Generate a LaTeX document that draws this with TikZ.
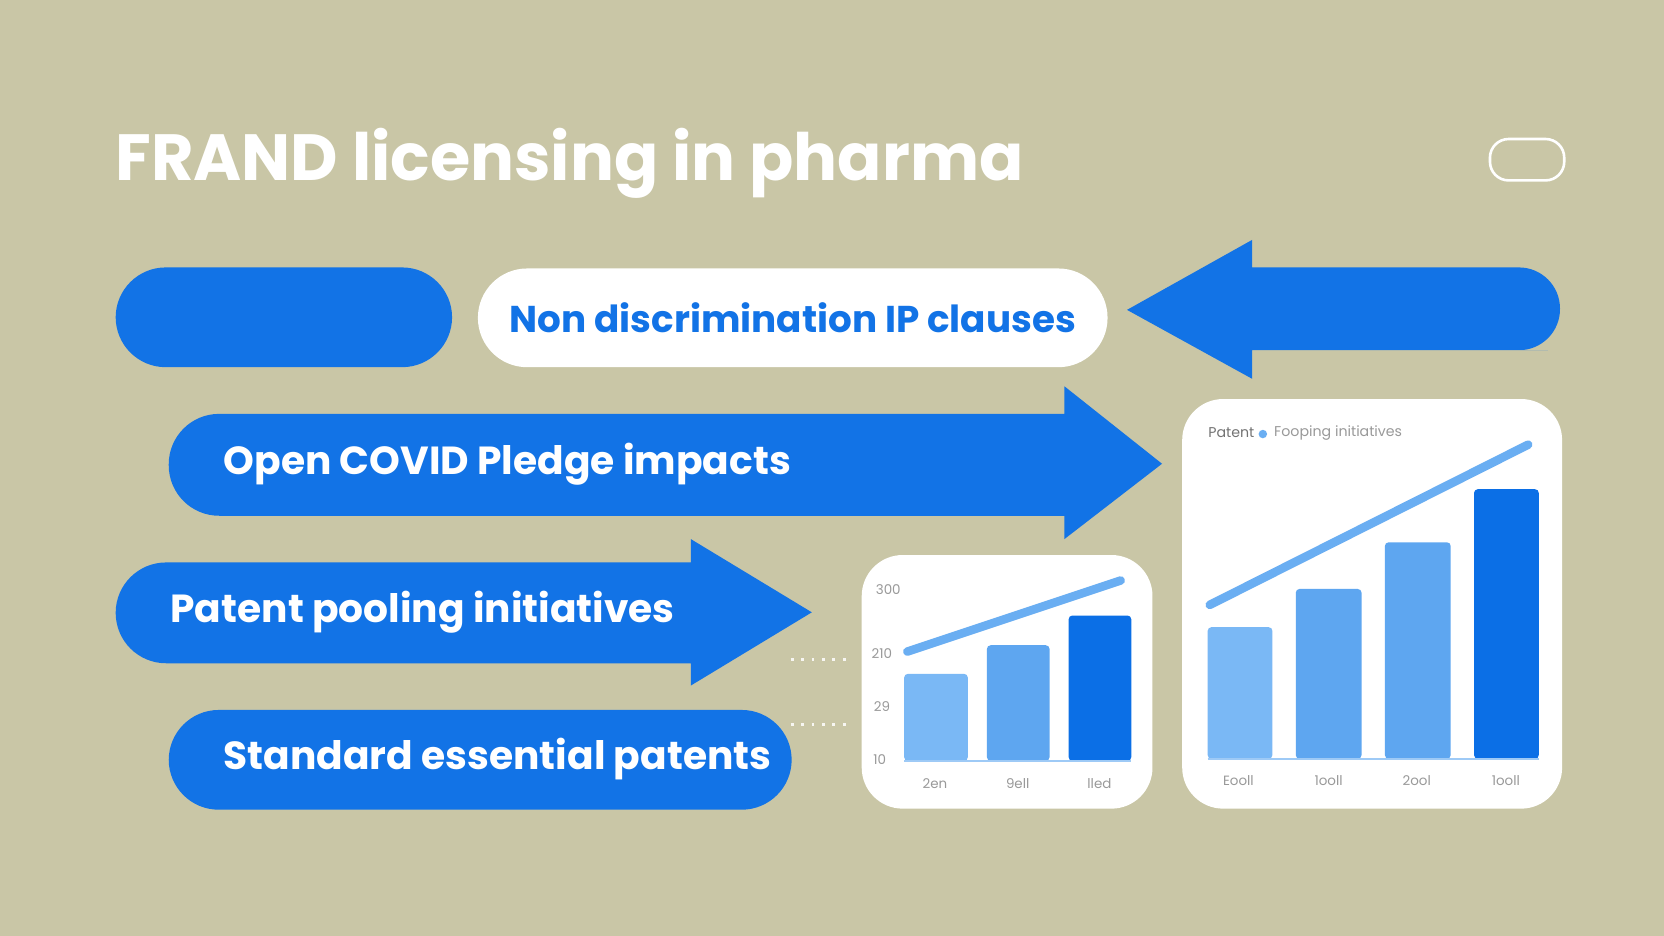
\documentclass[tikz,border=0pt]{standalone}
\usepackage{fontspec}
\setmainfont{Poppins}
\definecolor{bg}{HTML}{C9C6A6}
\definecolor{fb}{HTML}{1273E6}
\definecolor{b1}{HTML}{7AB8F5}
\definecolor{b2}{HTML}{5EA6F0}
\definecolor{b3}{HTML}{0B6FE6}
\definecolor{ln}{HTML}{6AAEF2}
\tikzset{lbl/.style={text=white,font=\fontsize{10.5}{12}\selectfont\bfseries,anchor=west,inner sep=0},
  card/.style={fill=white,rounded corners=11pt},
  ax/.style={text=gray!80,font=\fontsize{3.6}{4}\selectfont,inner sep=0}}
\begin{document}
\begin{tikzpicture}[x=0.01cm,y=-0.01cm]
\fill[bg] (0,0) rectangle (1568,882);
\useasboundingbox (0,0) rectangle (1568,882);
\node[text=white,font=\fontsize{17.5}{20}\selectfont\bfseries,anchor=base west,inner sep=0] (title) at (108,170) {FRAND licensing in pharma};
\draw[white,line width=0.7pt,rounded corners=5pt] (1404,131) rectangle (1474,170);
% row1
\fill[fb,rounded corners=13.4pt] (109,252) rectangle (426,346);
\node[fill=white,rounded corners=13.2pt,minimum width=5.93cm,minimum height=0.93cm,text=fb,font=\fontsize{10}{12}\selectfont\bfseries] (nd) at (747,299.5) {Non discrimination IP clauses};
\fill[fb,rounded corners=11pt] (1420,252) -- (1470,252) -- (1470,330) -- (1420,330) [sharp corners]-- (1180,330) -- (1180,357) -- (1062,292) -- (1180,226) -- (1180,252) -- cycle;
% row2
\fill[fb] (1003,390) -- (1003,364) -- (1095,437) -- (1003,508) -- (1003,486) -- (220,486) [rounded corners=13.5pt]-- (159,486) -- (159,390) [sharp corners]-- (220,390) -- cycle;
\node[lbl] (oc) at (210,437) {Open COVID Pledge impacts};
% row3
\fill[fb] (651,530) -- (651,508) -- (765,577) -- (651,646) -- (651,625) -- (170,625) [rounded corners=13.5pt]-- (109,625) -- (109,530) [sharp corners]-- (170,530) -- cycle;
\node[lbl] (pp) at (160,577) {Patent pooling initiatives};
% row4
\fill[fb,rounded corners=13.4pt] (159,669) rectangle (746,763);
\node[lbl] (se) at (210,715) {Standard essential patents};
% dotted
\coordinate (d1a) at (745,621); \coordinate (d1b) at (800,621);
\coordinate (d2a) at (745,683); \coordinate (d2b) at (800,683);
\draw[white!85!bg,line width=0.8pt,dotted] (d1a) -- (d1b);
\draw[white!85!bg,line width=0.8pt,dotted] (d2a) -- (d2b);
% small card
\fill[card] (812,523) rectangle (1086,762);
\fill[b1,rounded corners=1pt] (852,717) |- (912,635) -- (912,717) -- cycle;
\fill[b2,rounded corners=1pt] (930,717) |- (989,608) -- (989,717) -- cycle;
\fill[b3,rounded corners=1pt] (1007,717) |- (1066,580) -- (1066,717) -- cycle;
\draw[b2!60,line width=0.4pt] (852,717) -- (1066,717);
\draw[ln,line width=2.3pt,line cap=round] (855,614) -- (1056,547);
\node[ax] at (837,556) {300};
\node[ax] at (831,616) {210};
\node[ax] at (831,666) {29};
\node[ax] at (829,716) {10};
\node[ax] at (881,738) {2en};
\node[ax] at (959,738) {9ell};
\node[ax] at (1036,738) {lled};
% big card
\fill[card] (1114,376) rectangle (1472,762);
\fill[b1,rounded corners=1pt] (1138,715) |- (1199,591) -- (1199,715) -- cycle;
\fill[b2,rounded corners=1pt] (1221,715) |- (1283,555) -- (1283,715) -- cycle;
\fill[b2,rounded corners=1pt] (1305,715) |- (1367,511) -- (1367,715) -- cycle;
\fill[b3,rounded corners=1pt] (1389,715) |- (1450,461) -- (1450,715) -- cycle;
\draw[b2!60,line width=0.4pt] (1138,715) -- (1450,715);
\draw[ln,line width=2.3pt,line cap=round] (1140,570) -- (1440,419);
\node[text=gray!90!black,font=\fontsize{3.8}{4}\selectfont,anchor=west,inner sep=0] at (1138,408) {Patent};
\fill[ln] (1190,409) circle (4);
\node[text=gray!80,font=\fontsize{3.8}{4}\selectfont,anchor=west,inner sep=0] at (1200,408) {Fooping initiatives};
\node[ax] at (1167,736) {Eooll};
\node[ax] at (1252,736) {1ooll};
\node[ax] at (1335,736) {2ool};
\node[ax] at (1419,736) {1ooll};
\end{tikzpicture}
\end{document}
